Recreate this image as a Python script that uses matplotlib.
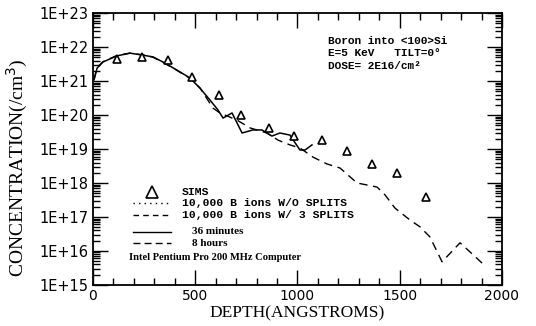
"""
plot.py - Boron into <100>Si depth profile (SIMS vs simulation)
"""

import numpy as np
import matplotlib
matplotlib.use("Agg")
import matplotlib.pyplot as plt
from matplotlib.lines import Line2D
from matplotlib.ticker import LogLocator, MultipleLocator, NullFormatter

# ── data ────────────────────────────────────────────────────────────────────
sims_depth = [117, 240, 367, 484, 616, 724, 861, 983, 1120, 1242, 1364, 1487, 1628]
sims_log   = [21.65, 21.71, 21.62, 21.12, 20.59, 20.00, 19.62, 19.38, 19.26,
              18.94, 18.56, 18.29, 17.59]

min36_depth = [5, 20, 49, 117, 181, 244, 293, 342, 411, 474, 523, 572, 611,
               636, 680, 729, 782, 826, 875, 914, 963, 1012, 1037, 1071]
min36_log   = [21.03, 21.38, 21.56, 21.74, 21.82, 21.76, 21.71, 21.56, 21.32,
               21.09, 20.79, 20.44, 20.15, 19.91, 20.06, 19.47, 19.56, 19.56,
               19.38, 19.47, 19.41, 18.97, 18.97, 19.12]

hr8_depth = [5, 20, 49, 117, 181, 244, 293, 342, 411, 474, 523, 587, 621, 704,
             768, 851, 905, 963, 1012, 1076, 1144, 1208, 1291, 1340, 1389, 1428,
             1477, 1550, 1599, 1648, 1707, 1795, 1907]
hr8_log   = [21.05, 21.40, 21.57, 21.75, 21.82, 21.77, 21.70, 21.55, 21.31,
             21.08, 20.80, 20.20, 20.06, 19.85, 19.62, 19.47, 19.26, 19.12,
             19.03, 18.76, 18.56, 18.44, 18.00, 17.94, 17.88, 17.65, 17.26,
             16.91, 16.71, 16.41, 15.68, 16.24, 15.62]

x_ticks     = [0, 500, 1000, 1500, 2000]
y_decades   = list(range(15, 24))
y_labels    = [f"1E+{d}" for d in y_decades]

legend_rows = ["SIMS",
               "10,000 B ions W/O SPLITS",
               "10,000 B ions W/ 3 SPLITS",
               "36 minutes",
               "8 hours"]
note_lines  = ["Boron into <100>Si",
               "E=5 KeV   TILT=0\u00b0",
               "DOSE= 2E16/cm\u00b2"]

MONO  = "Liberation Mono"
SERIF = "Liberation Serif"


def main():
    fig = plt.figure(figsize=(5.36, 3.26), dpi=100)
    ax = fig.add_axes([0.1735, 0.126, 0.763, 0.834])

    ax.plot(min36_depth, 10 ** np.array(min36_log), color="black", lw=1.1)
    ax.plot(hr8_depth, 10 ** np.array(hr8_log), color="black", lw=1.0,
            dashes=(6, 4))
    ax.plot(sims_depth, 10 ** np.array(sims_log), ls="none", marker="^",
            ms=6, mfc="white", mec="black", mew=1.2)

    ax.set_yscale("log")
    ax.set_xlim(0, 2000)
    ax.set_ylim(1e15, 1e23)

    # ticks
    ax.set_xticks(x_ticks)
    ax.set_xticklabels([str(t) for t in x_ticks], fontsize=10)
    ax.xaxis.set_minor_locator(MultipleLocator(100))
    ax.set_yticks([10.0 ** d for d in y_decades])
    ax.set_yticklabels(y_labels, fontsize=10.5)
    ax.yaxis.set_minor_locator(LogLocator(base=10, subs=np.arange(2, 10), numticks=20))
    ax.yaxis.set_minor_formatter(NullFormatter())
    ax.tick_params(which="both", direction="in", top=True, right=True,
                   width=1.0, colors="black")
    ax.tick_params(which="major", length=11, pad=3)
    ax.tick_params(which="minor", length=5)
    for s in ax.spines.values():
        s.set_linewidth(1.3)

    ax.set_xlabel("DEPTH(ANGSTROMS)", family=SERIF, fontsize=12.5, labelpad=2)
    ax.set_ylabel("CONCENTRATION(/cm$^3$)", family=SERIF, fontsize=14)
    ax.yaxis.set_label_coords(-0.154, 0.43)

    # ── legend drawn by hand (mixed fonts) ────────────────────────────────
    tr = ax.transAxes
    ax.plot([0.144], [0.342], transform=tr, ls="none", marker="^", ms=8,
            mfc="white", mec="black", mew=1.2)
    styles = [None, (1, 3), (4, 3), None, (5, 3)]
    rows_y = [0.342, 0.301, 0.257, 0.195, 0.154]
    for i, (lab, y) in enumerate(zip(legend_rows, rows_y)):
        if i > 0:
            ln = Line2D([0.097, 0.19], [y, y], transform=tr, color="black", lw=1.0)
            if styles[i]:
                ln.set_dashes(styles[i])
            ax.add_line(ln)
        if i < 3:
            ax.text(0.218, y, lab, transform=tr, family=MONO, fontsize=8.2,
                    weight="bold", va="center")
        else:
            ax.text(0.242, y, lab, transform=tr, family=SERIF, fontsize=8,
                    weight="bold", va="center")
    ax.text(0.088, 0.1, "Intel Pentium Pro 200 MHz Computer", transform=tr,
            family=SERIF, fontsize=7.6, weight="bold", va="center")

    for txt, y in zip(note_lines, [0.897, 0.853, 0.805]):
        ax.text(0.575, y, txt, transform=tr, family=MONO, fontsize=8,
                weight="bold", va="center")

    fig.savefig("out.png", dpi=100)


if __name__ == "__main__":
    main()
